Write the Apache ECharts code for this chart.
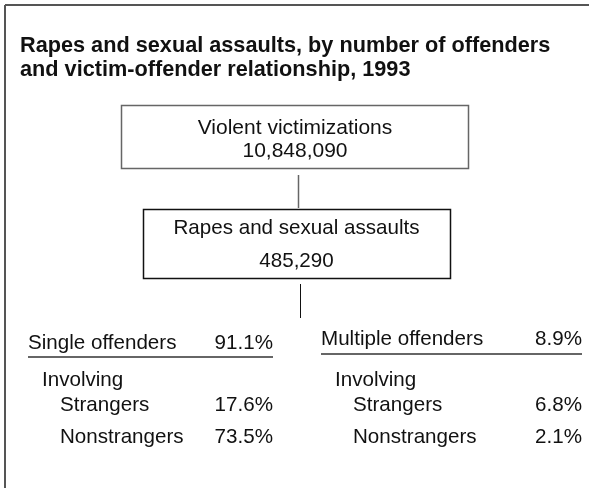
<!DOCTYPE html>
<html>
  <head>
    <meta charset="utf-8" />
    <title>Rapes and sexual assaults, 1993</title>
    <script src="https://cdn.jsdelivr.net/npm/echarts@6/dist/echarts.min.js"></script>
    <style>
      html, body { margin: 0; padding: 0; background: #fff; }
      #chart { width: 589px; height: 489px; }
    </style>
  </head>
  <body>
    <div id="chart"></div>
    <script type="text/javascript">
      // data
      var titleLines = [
        "Rapes and sexual assaults, by number of offenders",
        "and victim-offender relationship, 1993",
      ];
      var rootLabel = "Violent victimizations";
      var rootCount = 10848090;
      var subLabel = "Rapes and sexual assaults";
      var subCount = 485290;
      var groups = ["Single offenders", "Multiple offenders"];
      var groupShares = [91.1, 8.9];
      var relations = ["Strangers", "Nonstrangers"];
      var relationShares = [
        [17.6, 73.5],
        [6.8, 2.1],
      ];

      var FONT = '"Liberation Sans", Arial, Helvetica, sans-serif';
      var ink = "#111";

      function fmt(n) {
        return n.toLocaleString("en-US");
      }
      function pct(v) {
        return v.toFixed(1) + "%";
      }
      function txt(s, x, y, opt) {
        opt = opt || {};
        return {
          type: "text",
          silent: true,
          style: {
            text: s,
            x: x,
            y: y,
            fill: ink,
            font: (opt.bold ? "bold " : "") + (opt.size || 20.6) + "px " + FONT,
            textAlign: opt.align || "left",
            textVerticalAlign: "middle",
          },
        };
      }
      function line(x1, y1, x2, y2, color, w) {
        return {
          type: "line",
          silent: true,
          shape: { x1: x1, y1: y1, x2: x2, y2: y2 },
          style: { stroke: color, lineWidth: w || 1 },
        };
      }
      function box(x, y, w, h, color) {
        return {
          type: "rect",
          silent: true,
          shape: { x: x + 0.5, y: y + 0.5, width: w, height: h },
          style: { fill: "#fff", stroke: color, lineWidth: 1.5 },
        };
      }

      var els = [];
      // outer frame (top + left only)
      els.push(line(5, 5, 589, 5, "#555", 2));
      els.push(line(5, 5, 5, 488, "#555", 2));

      // title
      els.push(txt(titleLines[0], 20, 46, { bold: true, size: 21.7 }));
      els.push(txt(titleLines[1], 20, 70, { bold: true, size: 21.7 }));

      // tree boxes
      els.push(box(121, 105, 347, 63, "#666"));
      els.push(txt(rootLabel, 295, 128, { align: "center", size: 21 }));
      els.push(txt(fmt(rootCount), 295, 151, { align: "center", size: 21 }));
      els.push(line(298.5, 175, 298.5, 208, "#666", 1.5));

      els.push(box(143, 209, 307, 69, "#111"));
      els.push(txt(subLabel, 296.5, 228, { align: "center" }));
      els.push(txt(fmt(subCount), 296.5, 261, { align: "center" }));
      els.push(line(300.5, 284, 300.5, 318, "#111", 1));

      // two columns
      var colL = [28, 321];
      var colR = [273, 582];
      var headY = [343, 339];
      var ruleY = [357, 354];
      var relY = [405, 437];
      groups.forEach(function (g, i) {
        els.push(txt(g, colL[i], headY[i]));
        els.push(txt(pct(groupShares[i]), colR[i], headY[i], { align: "right" }));
        els.push(line(colL[i], ruleY[i], colR[i], ruleY[i], "#333", 1.5));
        els.push(txt("Involving", colL[i] + 14, 380));
        relations.forEach(function (r, j) {
          els.push(txt(r, colL[i] + 32, relY[j]));
          els.push(txt(pct(relationShares[i][j]), colR[i], relY[j], { align: "right" }));
        });
      });

      var myChart = echarts.init(document.getElementById("chart"), null, { renderer: "canvas" });
      var option = {
        backgroundColor: "#fff",
        animation: false,
        graphic: { elements: els },
      };
      myChart.setOption(option);
    </script>
  </body>
</html>
